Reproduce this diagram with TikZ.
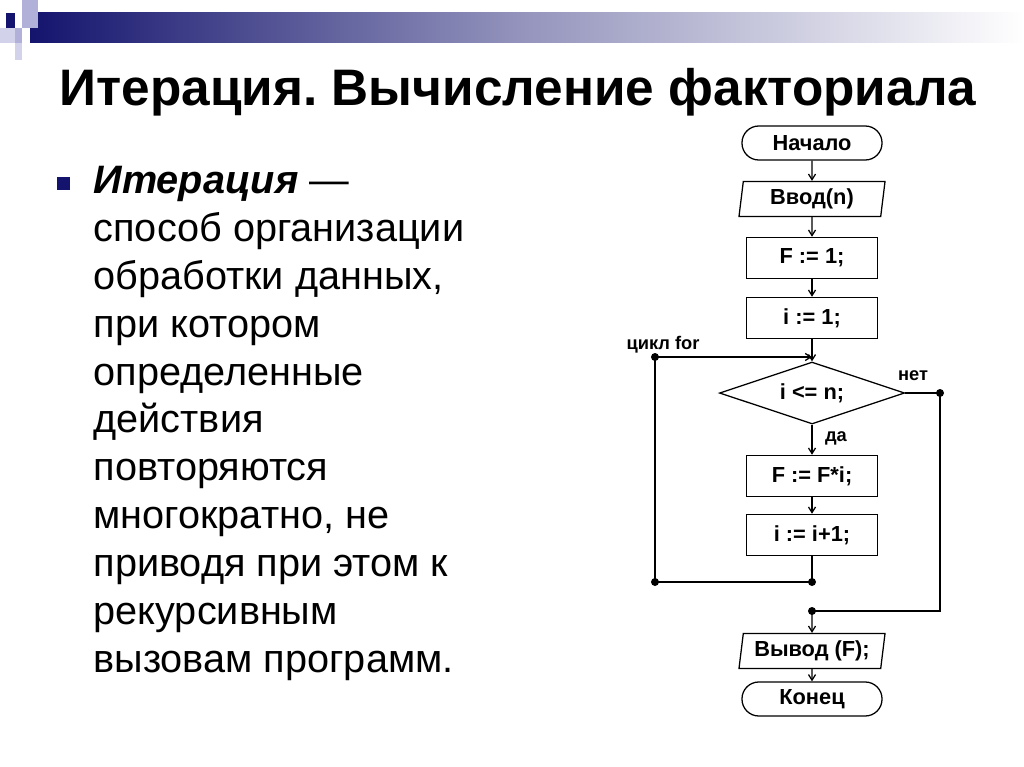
\documentclass[tikz,border=0pt]{standalone}
\usepackage{fontspec}
\setmainfont{Liberation Sans}
\usetikzlibrary{shapes.geometric,arrows.meta}
\definecolor{navy}{RGB}{20,20,110}
\definecolor{lav}{RGB}{176,176,216}
\definecolor{lavlight}{RGB}{210,210,235}
\frenchspacing
\begin{document}
\begin{tikzpicture}[x=0.025cm,y=-0.025cm,
  >={Straight Barb[length=4pt,width=5pt]},
  line width=0.9pt,
  fc/.style={font=\fontsize{15.5}{18}\selectfont\bfseries, inner sep=0pt},
  box/.style={fc, draw, minimum width=3.275cm, minimum height=1.03cm},
  term/.style={fc, draw, rounded corners=0.42cm, minimum width=3.5cm, minimum height=0.85cm},
  io/.style={fc, draw, trapezium, trapezium left angle=78, trapezium right angle=102,
    trapezium stretches body, minimum width=3.65cm, minimum height=0.875cm},
  cond/.style={fc, draw, diamond, aspect=3, minimum width=4.625cm, minimum height=1.55cm},
  dot/.style={circle, fill, inner sep=0pt, minimum size=0.2cm},
  lbl/.style={font=\fontsize{13}{15}\selectfont\bfseries, inner sep=0pt}]
\useasboundingbox (0,0) rectangle (1024,767);
% header
\shade[left color=navy, right color=white, middle color=navy!45] (30,13) rectangle (1024,43);
\fill[lavlight] (0,28) rectangle (15,43);
\fill[lav] (22,0) rectangle (38,28);
\fill[lav] (15,28) rectangle (22,43);
\fill[lavlight] (15,43) rectangle (22,60);
\fill[navy] (6,13) rectangle (15,28);
% title
\node[font=\fontsize{36.5}{42}\selectfont\bfseries] (title) at (518,92) {Итерация. Вычисление факториала};
% bullet text
\fill[navy] (57,177) rectangle (70,190);
\node[anchor=north west, align=left, inner sep=0pt,
  font=\fontsize{28.2}{34}\selectfont] (txt) at (93,166)
  {\textbf{\textit{Итерация}} —\\
   способ организации\\
   обработки данных,\\
   при котором\\
   определенные\\
   действия\\
   повторяются\\
   многократно, не\\
   приводя при этом к\\
   рекурсивным\\
   вызовам программ.};
% flowchart
\node[term] (start) at (812,143) {Начало};
\node[io] (inp) at (812,199) {Ввод(n)};
\node[box] (f1) at (812,258) {F := 1;};
\node[box] (i1) at (812,318) {i := 1;};
\node[cond] (d) at (812,393) {i <= n;};
\node[box] (mul) at (812,476) {F := F*i;};
\node[box] (inc) at (812,535) {i := i+1;};
\node[io] (out) at (812,651) {Вывод (F);};
\node[term] (stop) at (812,699) {Конец};
\node[dot] (jl) at (655,357) {};
\node[dot] (jbl) at (655,582) {};
\node[dot] (jb) at (812,582) {};
\node[dot] (jr) at (940,393) {};
\node[dot] (jo) at (812,611) {};
\node[lbl] (lfor) at (663,345) {цикл for};
\node[lbl] (lno) at (913,376) {нет};
\node[lbl] (lyes) at (836,438) {да};
\draw[->] (start) -- (inp);
\draw[->] (inp) -- (f1);
\draw[->] (f1) -- (i1);
\draw[->] (i1) -- (d);
\draw[->] (jl.center) -- (jl -| d.north);
\draw[->] (d) -- (mul);
\draw[->] (mul) -- (inc);
\draw (inc) -- (jb.center) -- (jbl.center) -- (jl.center);
\draw (d.east) -- (jr.center) -- (jr |- jo) -- (jo.center);
\draw[->] (jo.center) -- (out);
\draw[->] (out) -- (stop);
\end{tikzpicture}
\end{document}
